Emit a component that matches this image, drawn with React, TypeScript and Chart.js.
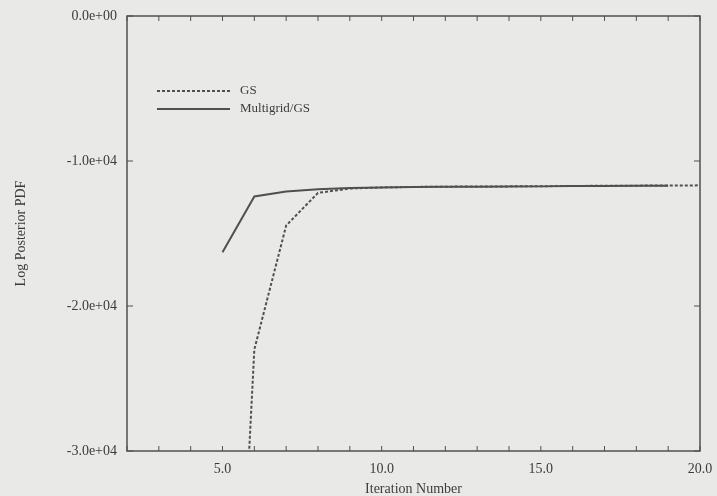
import React, { useEffect, useRef } from "react";
import { Chart, registerables } from "chart.js";

Chart.register(...registerables);

const gsIterations = [5, 6, 7, 8, 9, 10, 11, 12, 13, 14, 15, 16, 17, 18, 19, 20];
const gsValues = [-66000, -23000, -14450, -12200, -11900, -11820, -11790, -11770, -11760, -11750, -11740, -11720, -11710, -11700, -11690, -11680];
const mgIterations = [5, 6, 7, 8, 9, 10, 11, 12, 13, 14, 15, 16, 17, 18, 19];
const mgValues = [-16300, -12450, -12100, -11950, -11870, -11830, -11800, -11780, -11770, -11760, -11750, -11730, -11720, -11710, -11700];
const seriesLabels = ["GS", "Multigrid/GS"];
const xTickValues = [5, 10, 15, 20];
const xTickLabels = ["5.0", "10.0", "15.0", "20.0"];
const yTickValues = [0, -10000, -20000, -30000];
const yTickLabels = ["0.0e+00", "-1.0e+04", "-2.0e+04", "-3.0e+04"];

const FONT = "'Liberation Serif', 'Times New Roman', serif";
const INK = "#3c3c3c";
const LINE = "#505050";

const framePlugin = {
  id: "frame",
  afterDatasetsDraw(chart: any) {
    const { ctx, chartArea } = chart;
    const { left, right, top, bottom } = chartArea;
    const xs = chart.scales.x;
    const ys = chart.scales.y;
    ctx.save();
    ctx.strokeStyle = LINE;
    ctx.lineWidth = 1.5;
    ctx.strokeRect(left, top, right - left, bottom - top);
    ctx.lineWidth = 1;
    for (let v = Math.ceil(xs.min); v <= xs.max; v++) {
      const px = xs.getPixelForValue(v);
      ctx.beginPath();
      ctx.moveTo(px, bottom);
      ctx.lineTo(px, bottom - 5);
      ctx.moveTo(px, top);
      ctx.lineTo(px, top + 5);
      ctx.stroke();
    }
    yTickValues.forEach((v) => {
      const py = ys.getPixelForValue(v);
      ctx.beginPath();
      ctx.moveTo(left, py);
      ctx.lineTo(left + 6, py);
      ctx.moveTo(right, py);
      ctx.lineTo(right - 6, py);
      ctx.stroke();
    });
    // legend
    const legendX0 = 157;
    const legendX1 = 230;
    const legendYs = [91, 109];
    chart.data.datasets.forEach((ds: any, i: number) => {
      const y = legendYs[i];
      ctx.strokeStyle = ds.borderColor;
      ctx.lineWidth = ds.borderWidth;
      ctx.setLineDash(ds.borderDash || []);
      ctx.beginPath();
      ctx.moveTo(legendX0, y);
      ctx.lineTo(legendX1, y);
      ctx.stroke();
      ctx.setLineDash([]);
      ctx.fillStyle = INK;
      ctx.font = `13px ${FONT}`;
      ctx.textAlign = "left";
      ctx.textBaseline = "middle";
      ctx.fillText(ds.label, 240, y);
    });
    ctx.restore();
  },
};

export default function App() {
  const ref = useRef<HTMLCanvasElement | null>(null);
  useEffect(() => {
    document.body.style.margin = "0";
    const canvas = ref.current;
    if (!canvas) return;
    const chart = new Chart(canvas, {
      type: "line",
      data: {
        datasets: [
          {
            label: seriesLabels[0],
            data: gsIterations.map((x, i) => ({ x, y: gsValues[i] })),
            borderColor: LINE,
            borderWidth: 2,
            borderDash: [3, 2],
            pointRadius: 0,
            tension: 0,
            fill: false,
          },
          {
            label: seriesLabels[1],
            data: mgIterations.map((x, i) => ({ x, y: mgValues[i] })),
            borderColor: LINE,
            borderWidth: 2,
            pointRadius: 0,
            tension: 0,
            fill: false,
          },
        ],
      },
      options: {
        animation: false,
        responsive: false,
        maintainAspectRatio: false,
        layout: { padding: { top: 16, right: 17, bottom: 0, left: 0 } },
        plugins: {
          legend: { display: false },
          tooltip: { enabled: false },
        },
        scales: {
          x: {
            type: "linear",
            min: 2,
            max: 20,
            grid: { display: false, drawTicks: false },
            border: { display: false },
            ticks: {
              stepSize: 1,
              autoSkip: false,
              maxRotation: 0,
              padding: 10,
              color: INK,
              font: { family: FONT, size: 14 },
              callback: (v: any) => {
                const idx = xTickValues.indexOf(Number(v));
                return idx >= 0 ? xTickLabels[idx] : "";
              },
            },
            title: {
              display: true,
              text: "Iteration Number",
              color: INK,
              font: { family: FONT, size: 14, lineHeight: 1 },
              padding: 0,
            },
            afterFit: (s: any) => {
              s.height = 45;
              s.paddingLeft = 0;
              s.paddingRight = 0;
            },
          },
          y: {
            type: "linear",
            min: -30000,
            max: 0,
            grid: { display: false, drawTicks: false },
            border: { display: false },
            afterBuildTicks: (s: any) => {
              s.ticks = yTickValues.map((v) => ({ value: v }));
            },
            ticks: {
              padding: 10,
              color: INK,
              font: { family: FONT, size: 14 },
              callback: (v: any) => {
                const idx = yTickValues.indexOf(Number(v));
                return idx >= 0 ? yTickLabels[idx] : "";
              },
            },
            title: {
              display: true,
              text: "Log Posterior PDF",
              color: INK,
              font: { family: FONT, size: 14, lineHeight: 1 },
              padding: { top: 14, bottom: 0 },
            },
            afterFit: (s: any) => {
              s.width = 127;
              s.paddingTop = 0;
              s.paddingBottom = 0;
            },
          },
        },
      },
      plugins: [framePlugin],
    });
    return () => chart.destroy();
  }, []);
  return (
    <div style={{ width: 717, height: 496, background: "#e9e9e7" }}>
      <canvas ref={ref} width={717} height={496} style={{ display: "block" }} />
    </div>
  );
}
